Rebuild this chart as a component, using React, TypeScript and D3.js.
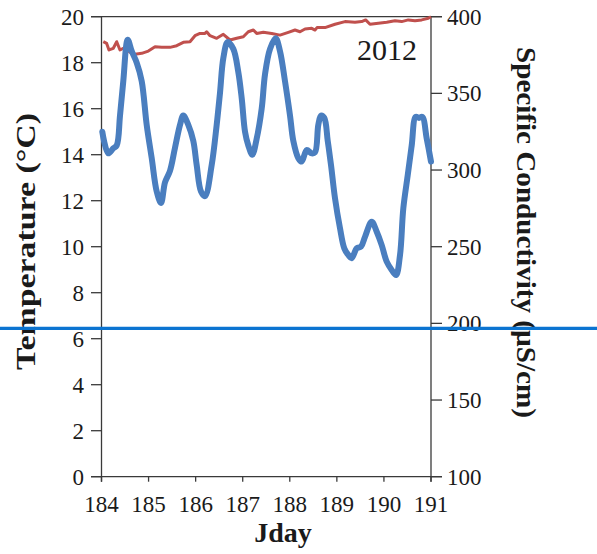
import React from "react";
import * as d3 from "d3";

const tempDay = [184.017,184.144,184.251,184.323,184.393,184.463,184.557,184.642,184.748,184.854,184.96,185.066,185.173,185.264,185.349,185.455,185.561,185.668,185.738,185.844,185.95,186.022,186.114,186.199,186.341,186.447,186.518,186.588,186.681,186.8,186.906,186.979,187.049,187.119,187.204,187.297,187.403,187.474,187.58,187.701,187.792,187.898,188.005,188.075,188.181,188.253,188.359,188.466,188.536,188.606,188.663,188.733,188.806,188.876,188.961,189.067,189.158,189.243,189.315,189.422,189.513,189.598,189.74,189.847,189.953,190.059,190.165,190.257,190.342,190.412,190.505,190.59,190.675,190.745,190.815,190.909,191.0];
const tempVal = [15.0,14.06,14.28,14.4,15.7,17.2,19.0,18.5,18.0,17.2,15.3,13.86,12.4,11.9,12.8,13.3,14.3,15.3,15.7,15.3,14.6,13.55,12.4,12.2,13.55,15.3,16.7,18.2,18.9,18.6,17.6,16.45,15.0,14.4,14.0,14.7,16.0,17.5,18.6,19.06,18.5,17.2,15.7,14.6,13.85,13.7,14.2,14.06,14.1,15.3,15.7,15.6,14.6,13.55,12.1,10.8,9.93,9.64,9.5,9.93,10.0,10.43,11.09,10.65,10.07,9.35,8.99,8.77,9.64,11.67,13.1,14.4,15.65,15.6,15.65,14.7,13.7];

const condDay = [184.038,184.11,184.159,184.251,184.323,184.393,184.463,184.57,184.676,184.854,184.995,185.137,185.279,185.455,185.598,185.738,185.88,185.986,186.092,186.199,186.234,186.305,186.447,186.588,186.73,186.872,187.013,187.119,187.226,187.297,187.438,187.616,187.792,187.969,188.111,188.217,188.324,188.466,188.536,188.579,188.748,188.961,189.173,189.385,189.527,189.612,189.704,189.88,190.059,190.235,190.377,190.518,190.66,190.802,190.943,191.0];
const condVal = [383.7,382.6,378.3,379.4,383.7,378.3,379.4,377.6,375.4,376.1,377.6,380.4,380.0,380.0,381.1,383.3,383.7,387.6,389.1,389.1,390.2,387.6,385.9,388.5,384.8,385.9,386.9,390.2,391.3,389.1,389.8,389.1,388.0,389.8,391.3,390.2,392.0,392.4,391.3,392.9,392.9,395.1,396.8,396.4,396.8,397.9,395.1,395.8,396.4,397.3,396.8,397.9,397.3,397.9,399.0,400.0];

const xTicks = [184, 185, 186, 187, 188, 189, 190, 191];
const tempTicks = [0, 2, 4, 6, 8, 10, 12, 14, 16, 18, 20];
const condTicks = [100, 150, 200, 250, 300, 350, 400];
const refLineTemp = 6.45;
const yearLabel = "2012";

export default function App() {
  const W = 597, H = 554;
  const left = 101.5, right = 431, top = 16.7, bottom = 476.7;
  const x = d3.scaleLinear().domain([184, 191]).range([left, right]);
  const yT = d3.scaleLinear().domain([0, 20]).range([bottom, top]);
  const yC = d3.scaleLinear().domain([100, 400]).range([bottom, top]);

  const condPts = condDay.map((d, i) => [d, condVal[i]] as [number, number]);
  const tempPts = tempDay.map((d, i) => [d, tempVal[i]] as [number, number]);

  const tLine = d3.line<[number, number]>().x(d => x(d[0])).y(d => yT(d[1])).curve(d3.curveCatmullRom.alpha(0.5));
  const cLine = d3.line<[number, number]>().x(d => x(d[0])).y(d => yC(d[1]));

  const font = "Liberation Serif, Times New Roman, Times, serif";
  const axisColor = "#3a3a3a";
  const txt = "#1a1a1a";
  const ts = { fontFamily: font } as React.CSSProperties;

  return (
    <svg width={W} height={H} style={{ position: "absolute", left: 0, top: 0, background: "#fff" }}>
      <rect x={0} y={0} width={W} height={H} fill="#fff" />
      <line x1={91} x2={442} y1={top} y2={top} stroke={axisColor} strokeWidth={1.3} />
      <line x1={91} x2={442} y1={bottom} y2={bottom} stroke={axisColor} strokeWidth={1.3} />
      <line x1={left} x2={left} y1={top} y2={bottom + 5} stroke={axisColor} strokeWidth={1.3} />
      <line x1={right} x2={right} y1={top} y2={bottom + 5} stroke={axisColor} strokeWidth={1.3} />
      {tempTicks.map(t => (
        <g key={"lt" + t}>
          <line x1={91} x2={left} y1={yT(t)} y2={yT(t)} stroke={axisColor} strokeWidth={1.3} />
          <text x={84} y={yT(t)} dy="0.35em" textAnchor="end" fontSize={23} fill={txt} style={ts}>{t}</text>
        </g>
      ))}
      {condTicks.map(t => (
        <g key={"rt" + t}>
          <line x1={right} x2={442} y1={yC(t)} y2={yC(t)} stroke={axisColor} strokeWidth={1.3} />
          <text x={447} y={yC(t)} dy="0.35em" textAnchor="start" fontSize={23} fill={txt} style={ts}>{t}</text>
        </g>
      ))}
      {xTicks.map(t => (
        <g key={"xt" + t}>
          <line x1={x(t)} x2={x(t)} y1={bottom} y2={bottom + 5} stroke={axisColor} strokeWidth={1.3} />
          <text x={x(t)} y={512} textAnchor="middle" fontSize={23} fill={txt} style={ts}>{t}</text>
        </g>
      ))}
      <path d={cLine(condPts) || ""} fill="none" stroke="#C0504D" strokeWidth={3} strokeLinejoin="round" />
      <path d={tLine(tempPts) || ""} fill="none" stroke="#4A7EBF" strokeWidth={6} strokeLinejoin="round" strokeLinecap="round" />
      <text x={417} y={60} textAnchor="end" fontSize={30} fill={txt} style={ts}>{yearLabel}</text>
      <text transform="translate(34.5,241.5) rotate(-90)" textAnchor="middle" fontSize={28} fontWeight="bold" fill={txt} textLength={257} lengthAdjust="spacingAndGlyphs" style={ts}>Temperature (°C)</text>
      <text transform="translate(516.5,232.5) rotate(90)" textAnchor="middle" fontSize={28} fontWeight="bold" fill={txt} textLength={371} lengthAdjust="spacingAndGlyphs" style={ts}>Specific Conductivity (µS/cm)</text>
      <text x={283} y={542} textAnchor="middle" fontSize={28} fontWeight="bold" fill={txt} style={ts}>Jday</text>
      <line x1={0} x2={W} y1={yT(refLineTemp)} y2={yT(refLineTemp)} stroke="#0B74D1" strokeWidth={3.3} />
    </svg>
  );
}
